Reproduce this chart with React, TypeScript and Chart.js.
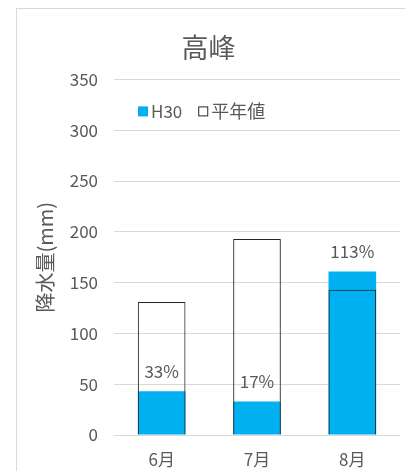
import React, { useEffect, useRef } from "react";
import { Chart, registerables } from "chart.js";

Chart.register(...registerables);

const categories = ["6月", "7月", "8月"];
const h30Values = [43, 33, 161];
const normalValues = [131, 193, 143];
const ratioLabels = ["33%", "17%", "113%"];
const yTicks = [0, 50, 100, 150, 200, 250, 300, 350];

const BLUE = "#00B0F0";
const TEXT = "#595959";
const FONT = "'Noto Sans CJK JP', 'Noto Sans', sans-serif";

const overlayPlugin = {
  id: "overlay",
  afterDatasetsDraw(chart: any) {
    const ctx = chart.ctx;
    const area = chart.chartArea;
    const meta = chart.getDatasetMeta(0);
    ctx.save();
    // percent labels above H30 bars
    ctx.font = `17px ${FONT}`;
    ctx.fillStyle = TEXT;
    ctx.textAlign = "center";
    ctx.textBaseline = "middle";
    meta.data.forEach((bar: any, i: number) => {
      ctx.fillText(ratioLabels[i], bar.x, bar.y - 20);
    });
    // legend inside plot
    const lx = area.left + 24;
    const ly = area.top + 32;
    ctx.fillStyle = BLUE;
    ctx.fillRect(lx, ly - 5, 10, 10);
    ctx.font = `17px ${FONT}`;
    ctx.fillStyle = TEXT;
    ctx.textAlign = "left";
    ctx.textBaseline = "middle";
    ctx.fillText(chart.data.datasets[0].label, lx + 13, ly);
    const w = ctx.measureText(chart.data.datasets[0].label).width;
    const x2 = lx + 13 + w + 16;
    ctx.strokeStyle = "#262626";
    ctx.lineWidth = 1;
    ctx.fillStyle = "#fff";
    ctx.fillRect(x2 + 0.5, ly - 4.5, 9, 9);
    ctx.strokeRect(x2 + 0.5, ly - 4.5, 9, 9);
    ctx.font = `18px ${FONT}`;
    ctx.fillStyle = TEXT;
    ctx.fillText(chart.data.datasets[1].label, x2 + 13, ly);
    ctx.restore();
  },
};

export default function App() {
  const ref = useRef<HTMLCanvasElement>(null);
  useEffect(() => {
    if (!ref.current) return;
    const chart = new Chart(ref.current, {
      type: "bar",
      data: {
        labels: categories,
        datasets: [
          {
            label: "H30",
            data: h30Values,
            backgroundColor: BLUE,
            borderWidth: 0,
            grouped: false,
            categoryPercentage: 1,
            barPercentage: 0.5,
            order: 2,
          } as any,
          {
            label: "平年値",
            data: normalValues,
            backgroundColor: "rgba(0,0,0,0)",
            borderColor: "#262626",
            borderWidth: 1,
            grouped: false,
            categoryPercentage: 1,
            barPercentage: 0.5,
            order: 1,
          } as any,
        ],
      },
      options: {
        animation: false,
        responsive: false,
        maintainAspectRatio: false,
        layout: { padding: { left: 0, right: 17, top: 0, bottom: 0 } },
        plugins: {
          legend: { display: false },
          tooltip: { enabled: false },
          title: {
            display: true,
            text: "高峰",
            color: TEXT,
            font: { family: FONT, size: 27, weight: "normal" as any, lineHeight: 1.2 },
            padding: { top: 23, bottom: 15 },
          },
        },
        scales: {
          x: {
            grid: { display: false, drawTicks: false },
            border: { display: false },
            ticks: { color: TEXT, font: { family: FONT, size: 17 }, padding: 14 },
            afterFit: (s: any) => {
              s.height = 47;
            },
          },
          y: {
            min: 0,
            max: 350,
            afterBuildTicks: (s: any) => {
              s.ticks = yTicks.map((v) => ({ value: v }));
            },
            grid: { color: "#d9d9d9", drawTicks: false },
            border: { display: false },
            ticks: { color: TEXT, font: { family: FONT, size: 17 }, padding: 16 },
            title: {
              display: true,
              text: "降水量(mm)",
              color: TEXT,
              font: { family: FONT, size: 20 },
              padding: { top: 16, bottom: 0 },
            },
            afterFit: (s: any) => {
              s.width = 97;
            },
          },
        },
      },
      plugins: [overlayPlugin],
    });
    return () => chart.destroy();
  }, []);
  return (
    <div
      style={{
        position: "absolute",
        left: 16,
        top: 8,
        width: 402,
        height: 475,
        border: "1px solid #d9d9d9",
        boxSizing: "border-box",
        background: "#fff",
      }}
    >
      <canvas ref={ref} width={400} height={473} style={{ display: "block" }} />
    </div>
  );
}
